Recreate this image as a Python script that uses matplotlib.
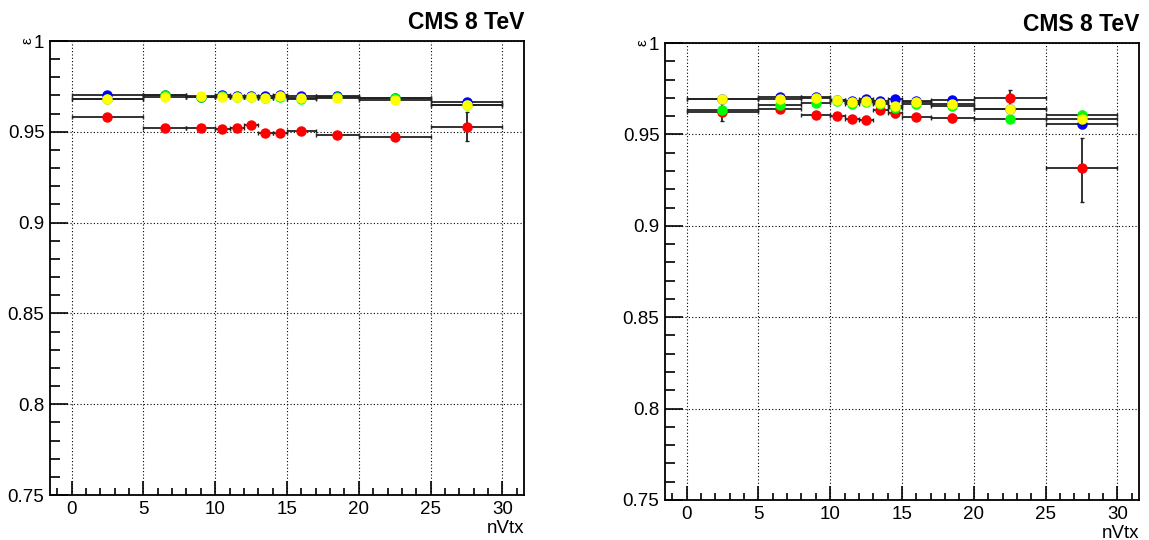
import matplotlib
matplotlib.use("Agg")
import matplotlib.pyplot as plt
from matplotlib.ticker import MultipleLocator, FuncFormatter

plt.rcParams['font.family'] = ['Liberation Sans', 'DejaVu Sans']

# bins in nVtx
x_centers = [2.5, 6.5, 9, 10.5, 11.5, 12.5, 13.5, 14.5, 16, 18.5, 22.5, 27.5]
x_halfw = [2.5, 1.5, 1, 0.5, 0.5, 0.5, 0.5, 0.5, 1, 1.5, 2.5, 2.5]

# left panel efficiencies
left_blue = [0.9702, 0.9702, 0.9693, 0.9705, 0.9695, 0.9695, 0.9697, 0.9702, 0.9698, 0.9695, 0.9687, 0.9662]
left_green = [0.9680, 0.9700, 0.9691, 0.9698, 0.9690, 0.9690, 0.9684, 0.9691, 0.9680, 0.9690, 0.9687, 0.9650]
left_yellow = [0.9680, 0.9690, 0.9697, 0.9690, 0.9689, 0.9690, 0.9686, 0.9697, 0.9686, 0.9686, 0.9675, 0.9645]
left_red = [0.9584, 0.9523, 0.9523, 0.9516, 0.9520, 0.9538, 0.9496, 0.9496, 0.9502, 0.9481, 0.9474, 0.9527]
left_small_err = [0.0006, 0.0005, 0.0005, 0.0006, 0.0006, 0.0006, 0.0006, 0.0006, 0.0006, 0.0006, 0.0008, 0.0012]
left_red_err = [0.0016, 0.0008, 0.0008, 0.0008, 0.0008, 0.0010, 0.0008, 0.0008, 0.0008, 0.0008, 0.0018, 0.0080]

# right panel efficiencies
right_blue = [0.9695, 0.9702, 0.9702, 0.9688, 0.9680, 0.9693, 0.9680, 0.9691, 0.9682, 0.9686, 0.9640, 0.9558]
right_green = [0.9635, 0.9662, 0.9671, 0.9684, 0.9664, 0.9675, 0.9666, 0.9646, 0.9664, 0.9658, 0.9586, 0.9604]
right_yellow = [0.9695, 0.9691, 0.9699, 0.9686, 0.9677, 0.9684, 0.9673, 0.9658, 0.9679, 0.9666, 0.9640, 0.9582]
right_red = [0.9624, 0.9638, 0.9604, 0.9600, 0.9586, 0.9580, 0.9635, 0.9617, 0.9595, 0.9589, 0.9698, 0.9317]
right_small_err = [0.0010, 0.0010, 0.0008, 0.0008, 0.0010, 0.0010, 0.0010, 0.0012, 0.0012, 0.0012, 0.0015, 0.0025]
right_red_err_lo = [0.0050, 0.0015, 0.0015, 0.0015, 0.0017, 0.0020, 0.0020, 0.0020, 0.0017, 0.0020, 0.0045, 0.0185]
right_red_err_hi = [0.0050, 0.0015, 0.0015, 0.0015, 0.0017, 0.0020, 0.0020, 0.0020, 0.0017, 0.0020, 0.0045, 0.0163]

y_ticks = [0.75, 0.8, 0.85, 0.9, 0.95, 1.0]
x_ticks = [0, 5, 10, 15, 20, 25, 30]

W, H = 1149, 540
fig = plt.figure(figsize=(W / 100, H / 100), dpi=100)

panels = [
    ([50, 524, 41, 495], (left_blue, left_green, left_yellow, left_red),
     left_small_err, (left_red_err, left_red_err)),
    ([665, 1139, 43, 500], (right_blue, right_green, right_yellow, right_red),
     right_small_err, (right_red_err_lo, right_red_err_hi)),
]
colors = ['#0000ff', '#00ff00', '#ffff00', '#ff0000']
zorders = [4, 5, 6, 3]

for (x0, x1, ytop, ybot), series, serr, rerr in panels:
    hpx = ybot - ytop
    ax = fig.add_axes([x0 / W, 1 - ybot / H, (x1 - x0) / W, hpx / H])
    ax.set_xlim(-1.5, 31.5)
    ax.set_ylim(0.75, 1.0)
    for i, (vals, c) in enumerate(zip(series, colors)):
        yerr = rerr if i == 3 else serr
        ax.errorbar(x_centers, vals, xerr=x_halfw, yerr=yerr, fmt='o',
                    color=c, mec=c, ms=6.5, ecolor='#222222', elinewidth=1.3,
                    capsize=1.5, capthick=1.0, zorder=zorders[i])
    ax.set_xticks(x_ticks)
    ax.set_yticks(y_ticks)
    ax.xaxis.set_minor_locator(MultipleLocator(1))
    ax.yaxis.set_minor_locator(MultipleLocator(0.01))
    ax.yaxis.set_major_formatter(FuncFormatter(lambda v, p: f"{v:g}"))
    ax.tick_params(axis='both', which='both', direction='in', top=False, right=False,
                   labelsize=13.5, width=1.2, colors='black')
    ax.tick_params(axis='y', which='major', length=13, pad=4)
    ax.tick_params(axis='y', which='minor', length=7)
    ax.tick_params(axis='x', which='major', length=10, pad=4)
    ax.tick_params(axis='x', which='minor', length=5)
    ax.grid(True, which='major', linestyle=(0, (1, 2)), color='black', linewidth=0.8)
    for s in ax.spines.values():
        s.set_linewidth(1.3)
    ax.text(1.0, 1 + 11.5 / hpx, 'CMS 8 TeV', transform=ax.transAxes, ha='right',
            va='baseline', fontsize=16.5, fontweight='bold')
    ax.text(1.0, -38 / hpx, 'nVtx', transform=ax.transAxes, ha='right',
            va='baseline', fontsize=13.5)
    ax.text(-0.048, 1.0, 'ε', transform=ax.transAxes, ha='center', va='center',
            rotation=90, fontsize=11)

fig.savefig('out.png', dpi=100)
